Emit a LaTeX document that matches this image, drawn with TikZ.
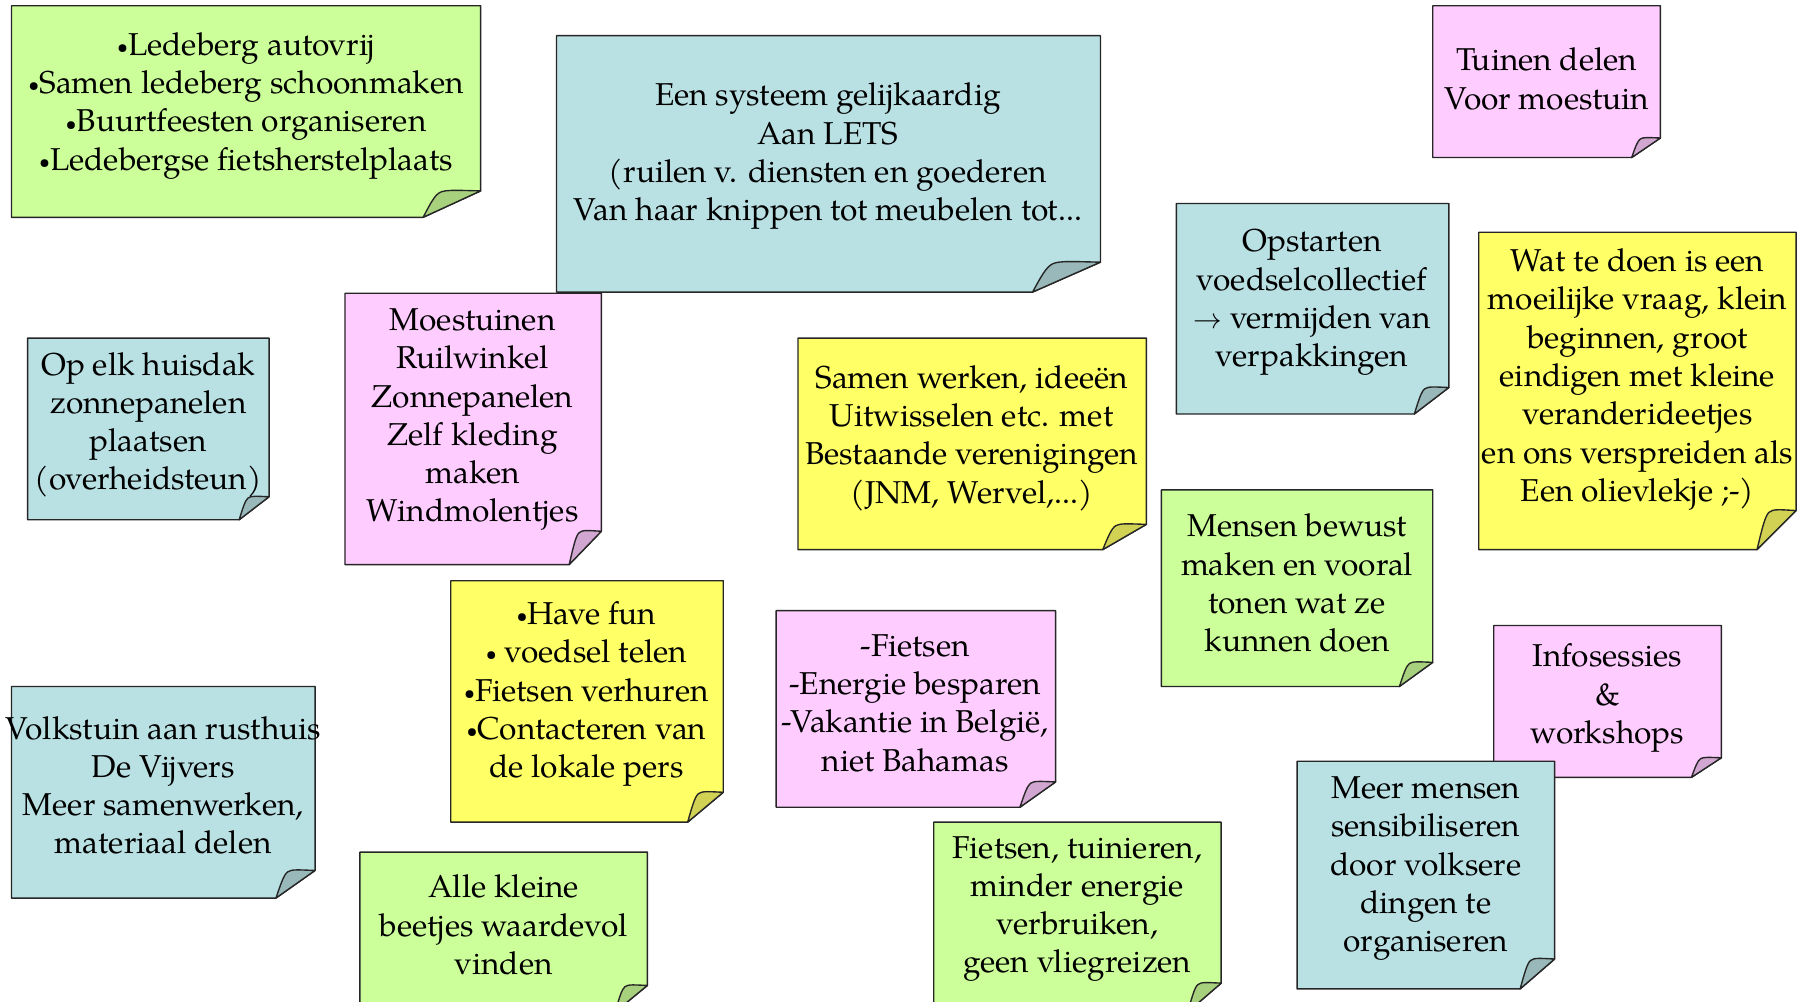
\documentclass[tikz,border=0pt]{standalone}
\usepackage{fontspec}
\setmainfont{texgyrepagella}[Extension=.otf, UprightFont=*-regular, BoldFont=*-bold, ItalicFont=*-italic]
\definecolor{ngreen}{HTML}{CCFF99}
\definecolor{nblue}{HTML}{B9E0E3}
\definecolor{npink}{HTML}{FFCCFF}
\definecolor{nyellow}{HTML}{FFFF66}
\newcommand\smallbul{\raisebox{0.12ex}{\fontsize{17}{17}\selectfont•}}
\tikzset{
  noteedge/.style={draw=black!85, line width=1.2pt, line join=round},
  notetext/.style={align=center, font=\fontsize{27.5}{33.3}\selectfont, inner sep=0pt, yshift=-3pt}
}
% #1 left, #2 top, #3 right, #4 bottom, #5 fold width, #6 fold height, #7 colour
\newcommand\stickynote[7]{%
  \draw[noteedge, fill=#7] (#1,#2) -- (#3,#2) -- (#3,#4-#6) -- (#3-#5,#4) -- (#1,#4) -- cycle;
  \draw[noteedge, fill=#7!82!black] (#3-#5,#4)
    .. controls (#3-0.88*#5,#4-0.5*#6) and (#3-0.8*#5,#4-0.85*#6) .. (#3-0.7*#5,#4-0.95*#6)
    .. controls (#3-0.6*#5,#4-1.05*#6) and (#3-0.4*#5,#4-1.02*#6) .. (#3,#4-#6) -- cycle;
}
\begin{document}
\begin{tikzpicture}[x=1pt,y=-1pt]
\useasboundingbox (0,0) rectangle (1568,871);
\clip (0,0) rectangle (1568,871);
\fill[white] (0,0) rectangle (1568,871);

\stickynote{10}{5}{418}{189}{50}{23}{ngreen}
\node[notetext] (ledeberg) at (214,89) {\smallbul Ledeberg autovrij\\\smallbul Samen ledeberg schoonmaken\\\smallbul Buurtfeesten organiseren\\\smallbul Ledebergse fietsherstelplaats};

\stickynote{300}{255}{523}{491}{28}{29}{npink}
\node[notetext] (moestuinen) at (411,362) {Moestuinen\\Ruilwinkel\\Zonnepanelen\\Zelf kleding\\maken\\Windmolentjes};

\stickynote{484}{31}{957}{254}{59}{26}{nblue}
\node[notetext] (lets) at (720,133) {Een systeem gelijkaardig\\Aan LETS\\(ruilen v. diensten en goederen\\Van haar knippen tot meubelen tot...};

\stickynote{1246}{5}{1444}{137}{25}{17}{npink}
\node[notetext] (tuinen) at (1345,65.5) {Tuinen delen\\Voor moestuin};

\stickynote{1023}{177}{1260}{360}{30}{23}{nblue}
\node[notetext] (opstarten) at (1141,260) {Opstarten\\voedselcollectief\\$\rightarrow$ vermijden van\\verpakkingen};

\stickynote{1286}{202}{1562}{478}{34}{34}{nyellow}
\node[notetext] (watdoen) at (1424,327) {Wat te doen is een\\moeilijke vraag, klein\\beginnen, groot\\eindigen met kleine\\veranderideetjes\\en ons verspreiden als\\Een olievlekje ;-)};

\stickynote{24}{294}{234}{452}{26}{20}{nblue}
\node[notetext] (huisdak) at (129,366.5) {Op elk huisdak\\zonnepanelen\\plaatsen\\(overheidsteun)};

\stickynote{694}{294}{997}{478}{38}{22}{nyellow}
\node[notetext] (samenwerken) at (845,378) {Samen werken, ideeën\\Uitwisselen etc. met\\Bestaande verenigingen\\(JNM, Wervel,...)};

\stickynote{1010}{426}{1246}{597}{29}{21}{ngreen}
\node[notetext] (bewust) at (1128,504) {Mensen bewust\\maken en vooral\\tonen wat ze\\kunnen doen};

\stickynote{392}{505}{629}{715}{31}{26}{nyellow}
\node[notetext] (havefun) at (510,600.5) {\smallbul Have fun\\\smallbul{} voedsel telen\\\smallbul Fietsen verhuren\\\smallbul Contacteren van\\de lokale pers};

\stickynote{675}{531}{918}{702}{31}{22}{npink}
\node[notetext] (fietsen) at (796,608.5) {-Fietsen\\-Energie besparen\\-Vakantie in België,\\niet Bahamas};

\stickynote{1299}{544}{1497}{676}{26}{17}{npink}
\node[notetext] (infosessies) at (1398,604) {Infosessies\\\&\\workshops};

\stickynote{1128}{662}{1352}{860}{30}{26}{nblue}
\node[notetext] (meermensen) at (1240,752.5) {Meer mensen\\sensibiliseren\\door volksere\\dingen te\\organiseren};

\stickynote{10}{597}{274}{781}{34}{24}{nblue}
\node[notetext] (volkstuin) at (142,680) {Volkstuin aan rusthuis\\De Vijvers\\Meer samenwerken,\\materiaal delen};

\stickynote{313}{741}{563}{880}{28}{23}{ngreen}
\node[notetext] (allekleine) at (438,801.5) {Alle kleine\\beetjes waardevol\\vinden};

\stickynote{812}{715}{1062}{880}{29}{25}{ngreen}
\node[notetext] (tuinieren) at (937,787.5) {Fietsen, tuinieren,\\minder energie\\verbruiken,\\geen vliegreizen};
\end{tikzpicture}
\end{document}
